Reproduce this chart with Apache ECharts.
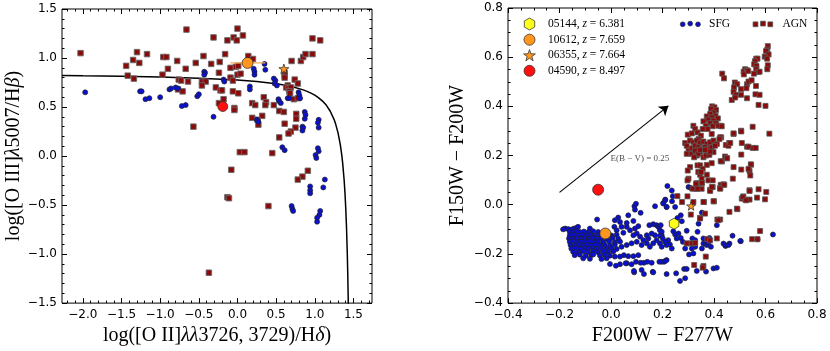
<!DOCTYPE html>
<html><head><meta charset="utf-8">
<script src="https://cdn.jsdelivr.net/npm/echarts@6/dist/echarts.min.js"></script>
<style>html,body{margin:0;padding:0;background:#fff}#c{width:830px;height:351px}</style>
</head><body><div id="c"></div>
<script>
// ---------- Left panel: O3-O2 diagram ----------
const leftXTicks = [-2.0, -1.5, -1.0, -0.5, 0.0, 0.5, 1.0, 1.5];
const leftYTicks = [-1.5, -1.0, -0.5, 0.0, 0.5, 1.0, 1.5];
const leftAGN = [
[-2.03,1.05],[-0.66,1.29],[-0.31,1.21],[-1.30,1.06],[-1.17,1.04],[-1.35,0.98],[-1.27,0.95],[-1.44,0.92],[-1.42,0.82],[-1.34,0.79],
[-0.96,1.01],[-0.92,1.01],[-0.78,0.97],[-0.90,0.89],[-0.97,0.83],[-0.67,0.89],[-0.54,0.95],[-0.44,1.02],[-0.34,0.94],[-0.23,0.96],
[-0.24,0.85],[-0.76,0.78],[-0.73,0.77],[-0.64,0.76],[-0.77,0.68],[-0.71,0.66],[-0.46,0.76],[-0.41,0.76],[-0.46,0.72],[-0.28,0.70],
[-0.22,0.67],[-0.24,0.54],[-0.57,0.30],[0.00,1.30],[-0.05,1.21],[0.07,1.23],[-0.01,1.18],[-0.13,1.18],[0.97,1.20],[1.07,1.18],
[-0.16,1.04],[0.14,1.02],[0.20,0.99],[-0.09,0.90],[-0.02,0.91],[0.01,0.92],[0.00,0.83],[0.04,0.84],[-0.09,0.80],[-0.06,0.77],
[-0.20,0.67],[-0.06,0.66],[0.01,0.64],[-0.18,0.58],[-0.04,0.49],[-0.04,0.47],[0.70,0.97],[0.82,0.97],[0.85,1.01],[0.88,1.04],
[0.97,1.04],[0.61,0.85],[0.61,0.82],[0.61,0.80],[0.65,0.72],[0.63,0.70],[0.66,0.69],[0.69,0.70],[0.74,0.78],[0.78,0.74],
[0.67,0.66],[0.68,0.64],[0.73,0.58],[0.78,0.59],[0.19,0.54],[0.23,0.52],[0.34,0.60],[0.37,0.55],[0.36,0.52],[0.47,0.52],
[0.54,0.46],[0.60,0.45],[0.32,0.41],[0.19,0.39],[0.26,0.37],[0.27,0.32],[0.76,0.43],[0.76,0.38],[0.61,0.33],[0.75,0.29],
[0.69,0.25],[0.66,0.23],[0.54,0.19],[0.03,0.04],[0.09,0.04],[0.45,0.03],[-0.08,-0.14],[0.91,-0.15],[0.84,-0.21],[0.78,-0.24],
[-0.13,-0.42],[-0.11,-0.43],[0.40,-0.51],[-0.37,-1.19]
];
const leftSFG = [
[-1.97,0.65],[-1.26,0.66],[-1.24,0.66],[-1.19,0.58],[-1.14,0.59],[-1.00,0.60],[-0.88,0.68],[-0.86,0.69],[-0.80,0.70],[-0.77,0.69],
[-0.72,0.51],[-0.67,0.52],[-0.52,0.61],[-0.50,0.63],[-0.43,0.86],[-0.42,0.85],[-0.43,0.83],[-0.31,0.40],[0.21,0.89],[0.22,0.86],
[0.22,0.83],[0.35,0.94],[0.36,0.88],[-0.18,0.78],[-0.17,0.76],[0.16,0.71],[0.16,0.68],[0.47,0.79],[0.49,0.77],[0.48,0.74],
[0.51,0.72],[0.79,0.65],[0.80,0.62],[0.81,0.59],[0.65,0.59],[0.67,0.59],[0.53,0.58],[0.54,0.56],[0.56,0.54],[0.87,0.45],
[0.88,0.42],[0.87,0.38],[1.05,0.37],[1.04,0.34],[0.25,0.37],[0.27,0.35],[0.84,0.30],[0.85,0.29],[0.84,0.26],[1.05,0.29],
[0.58,0.09],[0.61,0.06],[1.04,0.08],[1.05,0.05],[1.01,0.01],[1.02,-0.02],[1.13,-0.24],[1.11,-0.32],[0.94,-0.31],[0.94,-0.35],
[0.94,-0.38],[0.70,-0.51],[0.71,-0.54],[0.72,-0.56],[1.07,-0.56],[1.06,-0.60],[1.03,-0.63],[1.03,-0.67]
];
// demarcation curve
const leftCurve = [
[-2.27,0.821],[-2.0,0.818],[-1.5,0.813],[-1.0,0.806],[-0.5,0.794],[0.0,0.776],[0.25,0.761],[0.5,0.738],[0.6,0.725],[0.7,0.709],
[0.85,0.675],[0.9,0.660],[0.95,0.642],[1.0,0.621],[1.05,0.594],[1.1,0.561],[1.15,0.517],[1.2,0.457],[1.25,0.372],[1.27,0.326],
[1.3,0.239],[1.33,0.117],[1.35,0.004],[1.36,-0.067],[1.38,-0.25],[1.39,-0.372],[1.40,-0.525],[1.41,-0.721],[1.42,-0.983],
[1.425,-1.15],[1.43,-1.35],[1.434,-1.541]
];
const leftOrange = [[0.13,0.95]];
const leftOrangeErr = [[-0.09,0.95],[0.36,0.95]];
const leftRed = [[-0.19,0.505]];
const leftStar = [[0.60,0.89]];

// ---------- Right panel: colour-colour diagram ----------
const rightXTicks = [-0.4, -0.2, 0.0, 0.2, 0.4, 0.6, 0.8];
const rightYTicks = [-0.4, -0.2, 0.0, 0.2, 0.4, 0.6, 0.8];
const rightSFG = [
[-0.054,-0.060],[-0.178,-0.097],[-0.166,-0.099],[-0.153,-0.101],[-0.144,-0.097],[-0.134,-0.094],[-0.128,-0.090],[-0.082,-0.097],[-0.186,-0.100],
[0.013,-0.090],[0.028,-0.052],[0.035,-0.070],[0.015,-0.063],[0.041,-0.090],[0.022,-0.104],[0.061,-0.090],[0.048,-0.114],[0.061,-0.074],
[0.087,-0.066],[0.093,-0.097],[0.106,-0.087],[0.074,-0.104],[0.100,-0.117],[0.087,-0.124],[0.067,-0.043],[0.093,-0.020],[0.091,-0.006],
[0.097,0.004],[0.115,-0.033],[0.149,-0.083],[0.164,-0.079],[0.177,-0.083],[0.184,-0.090],[0.171,-0.006],[0.203,0.007],[0.216,-0.009],
[0.211,0.021],[0.158,-0.117],[0.171,-0.124],[0.190,-0.104],[0.197,-0.124],[0.139,-0.124],[0.145,-0.137],[0.126,-0.144],[0.113,-0.130],
[0.100,-0.151],[0.080,-0.157],[0.061,-0.164],[0.041,-0.171],[0.119,-0.164],[0.139,-0.157],[0.151,-0.171],[0.164,-0.157],[0.177,-0.144],
[0.190,-0.157],[0.216,-0.157],[0.197,-0.171],[0.222,-0.144],[0.087,-0.209],[0.106,-0.205],[0.067,-0.209],[0.050,-0.205],[0.035,-0.211],
[0.015,-0.211],[-0.004,-0.241],[0.019,-0.248],[0.061,-0.238],[0.080,-0.242],[0.097,-0.232],[0.115,-0.236],[0.128,-0.236],[0.141,-0.232],
[0.158,-0.236],[0.188,-0.232],[0.206,-0.232],[0.216,-0.225],[0.090,-0.275],[0.119,-0.265],[0.128,-0.282],[0.162,-0.273],[0.216,-0.282],
[-0.160,-0.110],[-0.147,-0.112],[-0.134,-0.108],[-0.121,-0.111],[-0.105,-0.109],[-0.089,-0.112],[-0.069,-0.108],[-0.050,-0.111],
[-0.160,-0.124],[-0.144,-0.122],[-0.128,-0.126],[-0.112,-0.123],[-0.095,-0.125],[-0.080,-0.122],[-0.063,-0.126],[-0.043,-0.123],[0.002,-0.125],[0.022,-0.122],
[-0.163,-0.137],[-0.150,-0.139],[-0.134,-0.135],[-0.118,-0.138],[-0.102,-0.136],[-0.086,-0.139],[-0.069,-0.135],[-0.054,-0.138],[-0.037,-0.136],[-0.015,-0.139],[0.006,-0.135],[0.028,-0.138],
[-0.160,-0.151],[-0.147,-0.149],[-0.131,-0.153],[-0.115,-0.150],[-0.099,-0.152],[-0.082,-0.149],[-0.067,-0.153],[-0.050,-0.150],[-0.030,-0.152],[-0.007,-0.149],[0.015,-0.153],[0.035,-0.150],
[-0.157,-0.164],[-0.141,-0.166],[-0.125,-0.162],[-0.108,-0.165],[-0.093,-0.163],[-0.076,-0.166],[-0.059,-0.162],[-0.043,-0.165],[-0.024,-0.163],[-0.004,-0.166],[0.015,-0.162],
[-0.154,-0.178],[-0.137,-0.176],[-0.121,-0.180],[-0.104,-0.177],[-0.089,-0.179],[-0.072,-0.176],[-0.056,-0.180],[-0.037,-0.177],[-0.017,-0.179],[0.002,-0.176],[0.022,-0.180],
[-0.147,-0.191],[-0.128,-0.193],[-0.108,-0.189],[-0.089,-0.192],[-0.069,-0.190],[-0.050,-0.193],[-0.030,-0.189],[-0.011,-0.192],[0.009,-0.190],
[-0.141,-0.205],[-0.121,-0.203],[-0.098,-0.207],[-0.076,-0.204],[-0.043,-0.206],[-0.024,-0.203],[-0.004,-0.207],
[-0.108,-0.218],[-0.082,-0.220],[-0.037,-0.221],[-0.017,-0.218],
[0.219,0.076],[0.236,0.058],[0.240,0.035],[0.237,0.014],[0.210,0.018],[0.203,0.005],[0.216,-0.009],[0.249,-0.009],[0.301,0.072],[0.310,0.068],
[0.271,-0.043],[0.275,-0.067],[0.258,-0.054],[0.353,-0.032],[0.340,-0.077],[0.336,-0.110],[0.294,-0.106],[0.411,-0.083],[0.242,-0.108],[0.249,-0.121],
[0.262,-0.117],[0.271,-0.135],[0.255,-0.137],[0.193,-0.083],[0.197,-0.110],[0.190,-0.126],[0.201,-0.137],[0.210,-0.151],[0.216,-0.164],[0.229,-0.162],
[0.236,-0.178],[0.279,-0.151],[0.288,-0.178],[0.301,-0.158],[0.316,-0.137],[0.327,-0.144],[0.327,-0.171],[0.314,-0.178],[0.359,-0.137],[0.359,-0.158],
[0.353,-0.178],[0.372,-0.164],[0.379,-0.153],[0.388,-0.171],[0.382,-0.135],[0.369,-0.148],[0.437,-0.158],[0.445,-0.168],[0.460,-0.158],[0.472,-0.126],
[0.504,-0.148],[0.569,-0.141],[0.629,-0.121],[0.303,-0.202],[0.320,-0.198],[0.197,-0.232],[0.210,-0.229],[0.284,-0.261],[0.294,-0.261],[0.333,-0.269],
[0.369,-0.272],[0.398,-0.259],[0.411,-0.256],[0.253,-0.279],[0.288,-0.299],[0.268,-0.310],[0.089,-0.269],[0.164,-0.275],
[-0.069,-0.202],[0.035,-0.242],[0.057,-0.238],[0.443,-0.164],[0.456,-0.164],[0.502,-0.147]
];
const rightAGN = [
[0.609,0.645],[0.607,0.631],[0.602,0.625],[0.612,0.611],[0.597,0.602],[0.606,0.594],[0.609,0.567],[0.607,0.551],
[0.564,0.594],[0.569,0.594],[0.559,0.584],[0.556,0.571],[0.565,0.564],[0.564,0.551],[0.571,0.540],[0.555,0.533],[0.577,0.541],
[0.521,0.551],[0.515,0.541],[0.528,0.547],[0.516,0.530],[0.533,0.544],[0.432,0.533],[0.439,0.514],
[0.481,0.497],[0.490,0.490],[0.478,0.477],[0.476,0.459],[0.485,0.447],[0.469,0.426],[0.482,0.436],
[0.505,0.470],[0.505,0.447],[0.528,0.490],[0.534,0.501],[0.546,0.506],[0.526,0.474],[0.563,0.483],[0.528,0.433],[0.561,0.449],[0.577,0.447],[0.573,0.406],[0.600,0.402],
[0.550,0.317],[0.505,0.301],[0.476,0.288],[0.615,0.289],[0.427,0.321],[0.428,0.274],[0.508,0.251],[0.459,0.251],[0.446,0.243],[0.528,0.236],[0.550,0.231],[0.562,0.231],
[0.443,0.196],[0.451,0.189],[0.506,0.204],[0.431,0.176],[0.544,0.163],
[0.393,0.400],[0.402,0.396],[0.389,0.389],[0.408,0.385],[0.398,0.375],[0.385,0.369],[0.406,0.362],[0.372,0.359],[0.391,0.355],[0.415,0.351],
[0.378,0.346],[0.398,0.342],[0.359,0.339],[0.385,0.332],[0.408,0.331],[0.368,0.321],[0.395,0.319],[0.417,0.321],[0.375,0.308],[0.430,0.319],
[0.356,0.308],[0.320,0.321],[0.327,0.308],[0.298,0.285],[0.314,0.290],[0.336,0.294],[0.349,0.281],[0.340,0.267],[0.424,0.274],[0.391,0.288],
[0.288,0.251],[0.294,0.240],[0.307,0.261],[0.320,0.254],[0.333,0.261],[0.346,0.251],[0.359,0.257],[0.372,0.247],[0.385,0.254],[0.398,0.261],
[0.411,0.247],[0.421,0.267],[0.301,0.220],[0.314,0.230],[0.327,0.240],[0.340,0.234],[0.352,0.227],[0.365,0.234],[0.378,0.227],[0.391,0.234],
[0.404,0.240],[0.294,0.207],[0.320,0.211],[0.346,0.214],[0.372,0.207],[0.398,0.214],[0.333,0.200],[0.359,0.193],
[0.313,0.207],[0.326,0.220],[0.339,0.207],[0.346,0.223],[0.365,0.223],[0.369,0.200],[0.382,0.203],[0.385,0.216],[0.323,0.193],[0.336,0.160],
[0.346,0.160],[0.372,0.162],[0.391,0.169],[0.356,0.146],[0.339,0.133],[0.346,0.122],[0.307,0.153],[0.352,0.106],[0.378,0.099],[0.395,0.099],
[0.333,0.088],[0.352,0.088],[0.330,0.065],[0.352,0.065],[0.385,0.061],[0.395,0.072],[0.426,0.081],[0.437,0.083],[0.424,0.068],[0.426,0.177],
[0.473,0.106],[0.543,0.164],[0.538,0.137],[0.541,0.119],[0.538,0.059],[0.573,0.063],[0.603,0.052],[0.508,0.025],[0.521,0.021],[0.514,0.034],
[0.598,0.022],[0.400,0.014],[0.361,0.011],[0.460,-0.029],[0.491,-0.018],[0.320,0.011],[0.365,-0.036],[0.346,-0.053],[0.413,-0.060],[0.424,-0.060],
[0.579,-0.107],[0.548,-0.140],[0.569,-0.140],[0.411,-0.137],[0.374,-0.140],[0.385,-0.145],[0.326,-0.157],[0.368,-0.211],
[0.298,0.139],[0.301,0.106],[0.350,0.133],[0.372,0.122],[0.317,0.065],[0.476,0.153],[0.506,0.143],[0.534,0.146],[0.534,0.236],[0.476,0.290],
[0.506,0.298],[0.450,0.189],[0.456,0.240],[0.463,0.251],[0.567,0.029],[0.538,0.021],[0.489,-0.016],[0.294,-0.157],[0.314,-0.157],[0.323,-0.245],
[0.359,-0.249],[0.297,0.099],[0.330,0.085],[0.353,0.089],[0.336,0.065],[0.385,0.056],[0.392,0.072],[0.424,0.065],[0.440,0.081],[0.538,0.056],
[0.258,0.035],[0.297,0.034],[0.276,0.011],[0.359,0.011],[0.398,0.014],[0.512,0.031],[0.525,0.018],[0.310,-0.040],[0.346,-0.056],[0.417,-0.063],
[0.327,-0.155],[0.356,-0.256]
];
const rightYellow = [[0.245,-0.077]];
const rightOrange = [[-0.022,-0.117]];
const rightStar = [[0.311,-0.005]];
const rightRed = [[-0.05,0.061]];
const reddeningArrow = [[-0.20,0.05],[0.223,0.402]];
const reddeningLabelPos = [0.112,0.189];
const reddeningLabel = 'E(B \u2212 V) = 0.25';

const legendIds = ['05144', '10612', '06355', '04590'];
const legendZ = ['6.381', '7.659', '7.664', '8.497'];

// ---------- styling ----------
const SERIF = '"Liberation Serif","DejaVu Serif",serif';
const SANS = '"DejaVu Sans",sans-serif';
const AGN_COLOR = '#8a0a0a', SFG_COLOR = '#0a10d2';
const ORANGE = '#ff961e', RED = '#ff1010', YELLOW = '#ffff1a';
const STAR = 'path://M50,0L61.76,33.82L97.55,34.55L69.02,56.18L79.39,90.45L50,70L20.61,90.45L30.98,56.18L2.45,34.55L38.24,33.82Z';
const HEX = 'path://M50,0L93.3,25L93.3,75L50,100L6.7,75L6.7,25Z';

function steps(a, b, s) { const r = []; for (let v = a; v <= b + 1e-9; v += s) r.push(+v.toFixed(4)); return r; }
const fmt = v => (Math.abs(v) < 1e-9 ? '0.0' : v.toFixed(1)).replace('-', '\u2212');

const grids = [
  { left: 62, top: 9, width: 310, height: 296 },
  { left: 508, top: 8, width: 309, height: 297 }
].map(g => Object.assign(g, { show: true, borderColor: '#000', borderWidth: 1, backgroundColor: 'transparent' }));

const richName = {
  t: { fontFamily: SERIF, fontSize: 20, color: '#000' },
  i: { fontFamily: SERIF, fontSize: 20, fontStyle: 'italic', color: '#000' }
};

function axesFor(dim, gridIndex, min, max, major, minor, name, nameGap) {
  const pos = dim === 'x' ? ['bottom', 'top'] : ['left', 'right'];
  const base = { type: 'value', gridIndex, min, max, splitLine: { show: false }, axisLine: { show: false, onZero: false } };
  const out = [];
  out.push(Object.assign({}, base, {
    position: pos[0], name, nameLocation: 'middle', nameGap,
    nameTextStyle: { fontFamily: SERIF, fontSize: 20, color: '#000', rich: richName },
    axisLabel: { customValues: major, formatter: fmt, fontFamily: SANS, fontSize: 12, color: '#000', margin: dim === 'x' ? 6 : 5 },
    axisTick: { customValues: major, inside: true, length: 5, lineStyle: { color: '#000' } }
  }));
  out.push(Object.assign({}, base, { position: pos[0], axisLabel: { show: false },
    axisTick: { customValues: minor, inside: true, length: 2.5, lineStyle: { color: '#000' } } }));
  out.push(Object.assign({}, base, { position: pos[1], axisLabel: { show: false },
    axisTick: { customValues: major, inside: true, length: 5, lineStyle: { color: '#000' } } }));
  out.push(Object.assign({}, base, { position: pos[1], axisLabel: { show: false },
    axisTick: { customValues: minor, inside: true, length: 2.5, lineStyle: { color: '#000' } } }));
  return out;
}

const xAxes = [
  ...axesFor('x', 0, -2.27, 1.74, leftXTicks, steps(-2.2, 1.7, 0.1),
    '{t|log([O II]}{i|λλ}{t|3726, 3729)/H}{i|δ}{t|)}', 20),
  ...axesFor('x', 1, -0.4, 0.8, rightXTicks, steps(-0.4, 0.8, 0.05),
    '{t|F200W \u2212 F277W}', 20)
];
const yAxes = [
  ...axesFor('y', 0, -1.5, 1.5, leftYTicks, steps(-1.5, 1.5, 0.1),
    '{t|log([O III]}{i|λ}{t|5007/H}{i|β}{t|)}', 38),
  ...axesFor('y', 1, -0.4, 0.8, rightYTicks, steps(-0.4, 0.8, 0.05),
    '{t|F150W \u2212 F200W}', 40)
];

const L = { xAxisIndex: 0, yAxisIndex: 0 }, R = { xAxisIndex: 4, yAxisIndex: 4 };
const edge = { borderColor: '#222', borderWidth: 0.7, opacity: 1 };

const series = [
  Object.assign({ type: 'line', data: leftCurve, showSymbol: false, symbol: 'none', smooth: false, clip: true,
    lineStyle: { color: '#000', width: 1.5 }, z: 2, silent: true }, L),
  Object.assign({ type: 'scatter', name: 'AGN', data: leftAGN, symbol: 'rect', symbolSize: 5.5,
    itemStyle: { color: AGN_COLOR, borderColor: '#6a6a6a', borderWidth: 0.9, opacity: 1 }, z: 3 }, L),
  Object.assign({ type: 'scatter', name: 'SFG', data: leftSFG, symbol: 'circle', symbolSize: 5,
    itemStyle: Object.assign({ color: SFG_COLOR }, edge), z: 4 }, L),
  Object.assign({ type: 'line', data: leftOrangeErr, symbol: 'none', lineStyle: { color: '#f7a84a', width: 1.2 }, z: 5 }, L),
  Object.assign({ type: 'scatter', data: leftOrange, symbol: 'circle', symbolSize: 11, itemStyle: Object.assign({ color: ORANGE }, edge), z: 6 }, L),
  Object.assign({ type: 'scatter', data: leftRed, symbol: 'circle', symbolSize: 10, itemStyle: Object.assign({ color: RED }, edge), z: 6 }, L),
  Object.assign({ type: 'scatter', data: leftStar, symbol: STAR, symbolSize: 10, symbolKeepAspect: true, itemStyle: Object.assign({ color: ORANGE }, edge), z: 6 }, L),

  Object.assign({ type: 'scatter', name: 'SFG', data: rightSFG, symbol: 'circle', symbolSize: 5,
    itemStyle: Object.assign({ color: SFG_COLOR }, edge), z: 3 }, R),
  Object.assign({ type: 'scatter', name: 'AGN', data: rightAGN, symbol: 'rect', symbolSize: 5,
    itemStyle: { color: AGN_COLOR, borderColor: '#5a5a5a', borderWidth: 0.8, opacity: 1 }, z: 4 }, R),
  Object.assign({ type: 'lines', coordinateSystem: 'cartesian2d', data: [{ coords: reddeningArrow }],
    symbol: ['none', 'arrow'], symbolSize: 9, lineStyle: { color: '#000', width: 1.1, opacity: 1 }, z: 5 }, R),
  Object.assign({ type: 'scatter', data: [reddeningLabelPos], symbolSize: 0, silent: true,
    label: { show: true, position: 'inside', formatter: reddeningLabel, fontFamily: SERIF, fontSize: 9, color: '#222' }, z: 5 }, R),
  Object.assign({ type: 'scatter', data: rightYellow, symbol: HEX, symbolSize: 11, symbolKeepAspect: true, itemStyle: Object.assign({ color: YELLOW }, edge), z: 6 }, R),
  Object.assign({ type: 'scatter', data: rightOrange, symbol: 'circle', symbolSize: 11, itemStyle: Object.assign({ color: ORANGE }, edge), z: 6 }, R),
  Object.assign({ type: 'scatter', data: rightStar, symbol: STAR, symbolSize: 9, symbolKeepAspect: true, itemStyle: Object.assign({ color: ORANGE }, edge), z: 6 }, R),
  Object.assign({ type: 'scatter', data: rightRed, symbol: 'circle', symbolSize: 11, itemStyle: Object.assign({ color: RED }, edge), z: 6 }, R)
];

// ---------- legend (graphic) ----------
function starPts(cx, cy, R, r) {
  const p = [];
  for (let k = 0; k < 10; k++) { const a = -Math.PI / 2 + k * Math.PI / 5; const rr = k % 2 ? r : R; p.push([cx + rr * Math.cos(a), cy + rr * Math.sin(a)]); }
  return p;
}
function hexPts(cx, cy, R) {
  const p = [];
  for (let k = 0; k < 6; k++) { const a = -Math.PI / 2 + k * Math.PI / 3; p.push([cx + R * Math.cos(a), cy + R * Math.sin(a)]); }
  return p;
}
const legX = 529.5, legTextX = 548, legY = [24, 39.7, 55.3, 70.8];
const mk = { stroke: '#222', lineWidth: 0.7 };
const graphic = [
  { type: 'polygon', shape: { points: hexPts(legX, legY[0], 6) }, style: Object.assign({ fill: YELLOW }, mk), z: 10 },
  { type: 'circle', shape: { cx: legX, cy: legY[1], r: 5.5 }, style: Object.assign({ fill: ORANGE }, mk), z: 10 },
  { type: 'polygon', shape: { points: starPts(legX, legY[2] + 0.5, 6.2, 2.5) }, style: Object.assign({ fill: ORANGE }, mk), z: 10 },
  { type: 'circle', shape: { cx: legX, cy: legY[3], r: 5.5 }, style: Object.assign({ fill: RED }, mk), z: 10 }
];
legendIds.forEach((id, k) => {
  graphic.push({ type: 'text', x: legTextX, y: legY[k], z: 10, style: {
    text: '{n|' + id + ', }{i|z}{n| = ' + legendZ[k] + '}', verticalAlign: 'middle',
    rich: { n: { fontFamily: SERIF, fontSize: 11.5, fill: '#000' }, i: { fontFamily: SERIF, fontSize: 11.5, fontStyle: 'italic', fill: '#000' } } } });
});
[[682.7, 24.3], [690.2, 23.6], [698, 24.3]].forEach(p => graphic.push({ type: 'circle', shape: { cx: p[0], cy: p[1], r: 2.4 }, style: Object.assign({ fill: SFG_COLOR }, mk), z: 10 }));
graphic.push({ type: 'text', x: 709, y: 24, z: 10, style: { text: 'SFG', verticalAlign: 'middle', fontFamily: SERIF, fontSize: 11.5, fill: '#000' } });
[[755.5, 24.3], [763, 23.6], [770.3, 24.3]].forEach(p => graphic.push({ type: 'rect', shape: { x: p[0] - 2.4, y: p[1] - 2.4, width: 4.8, height: 4.8 }, style: { fill: AGN_COLOR, stroke: '#555', lineWidth: 0.8 }, z: 10 }));
graphic.push({ type: 'text', x: 782.5, y: 24, z: 10, style: { text: 'AGN', verticalAlign: 'middle', fontFamily: SERIF, fontSize: 11.5, fill: '#000' } });

const chart = echarts.init(document.getElementById('c'), null, { renderer: 'canvas' });
chart.setOption({
  animation: false,
  backgroundColor: '#fff',
  grid: grids,
  xAxis: xAxes,
  yAxis: yAxes,
  series,
  graphic
});
</script>
</body></html>
